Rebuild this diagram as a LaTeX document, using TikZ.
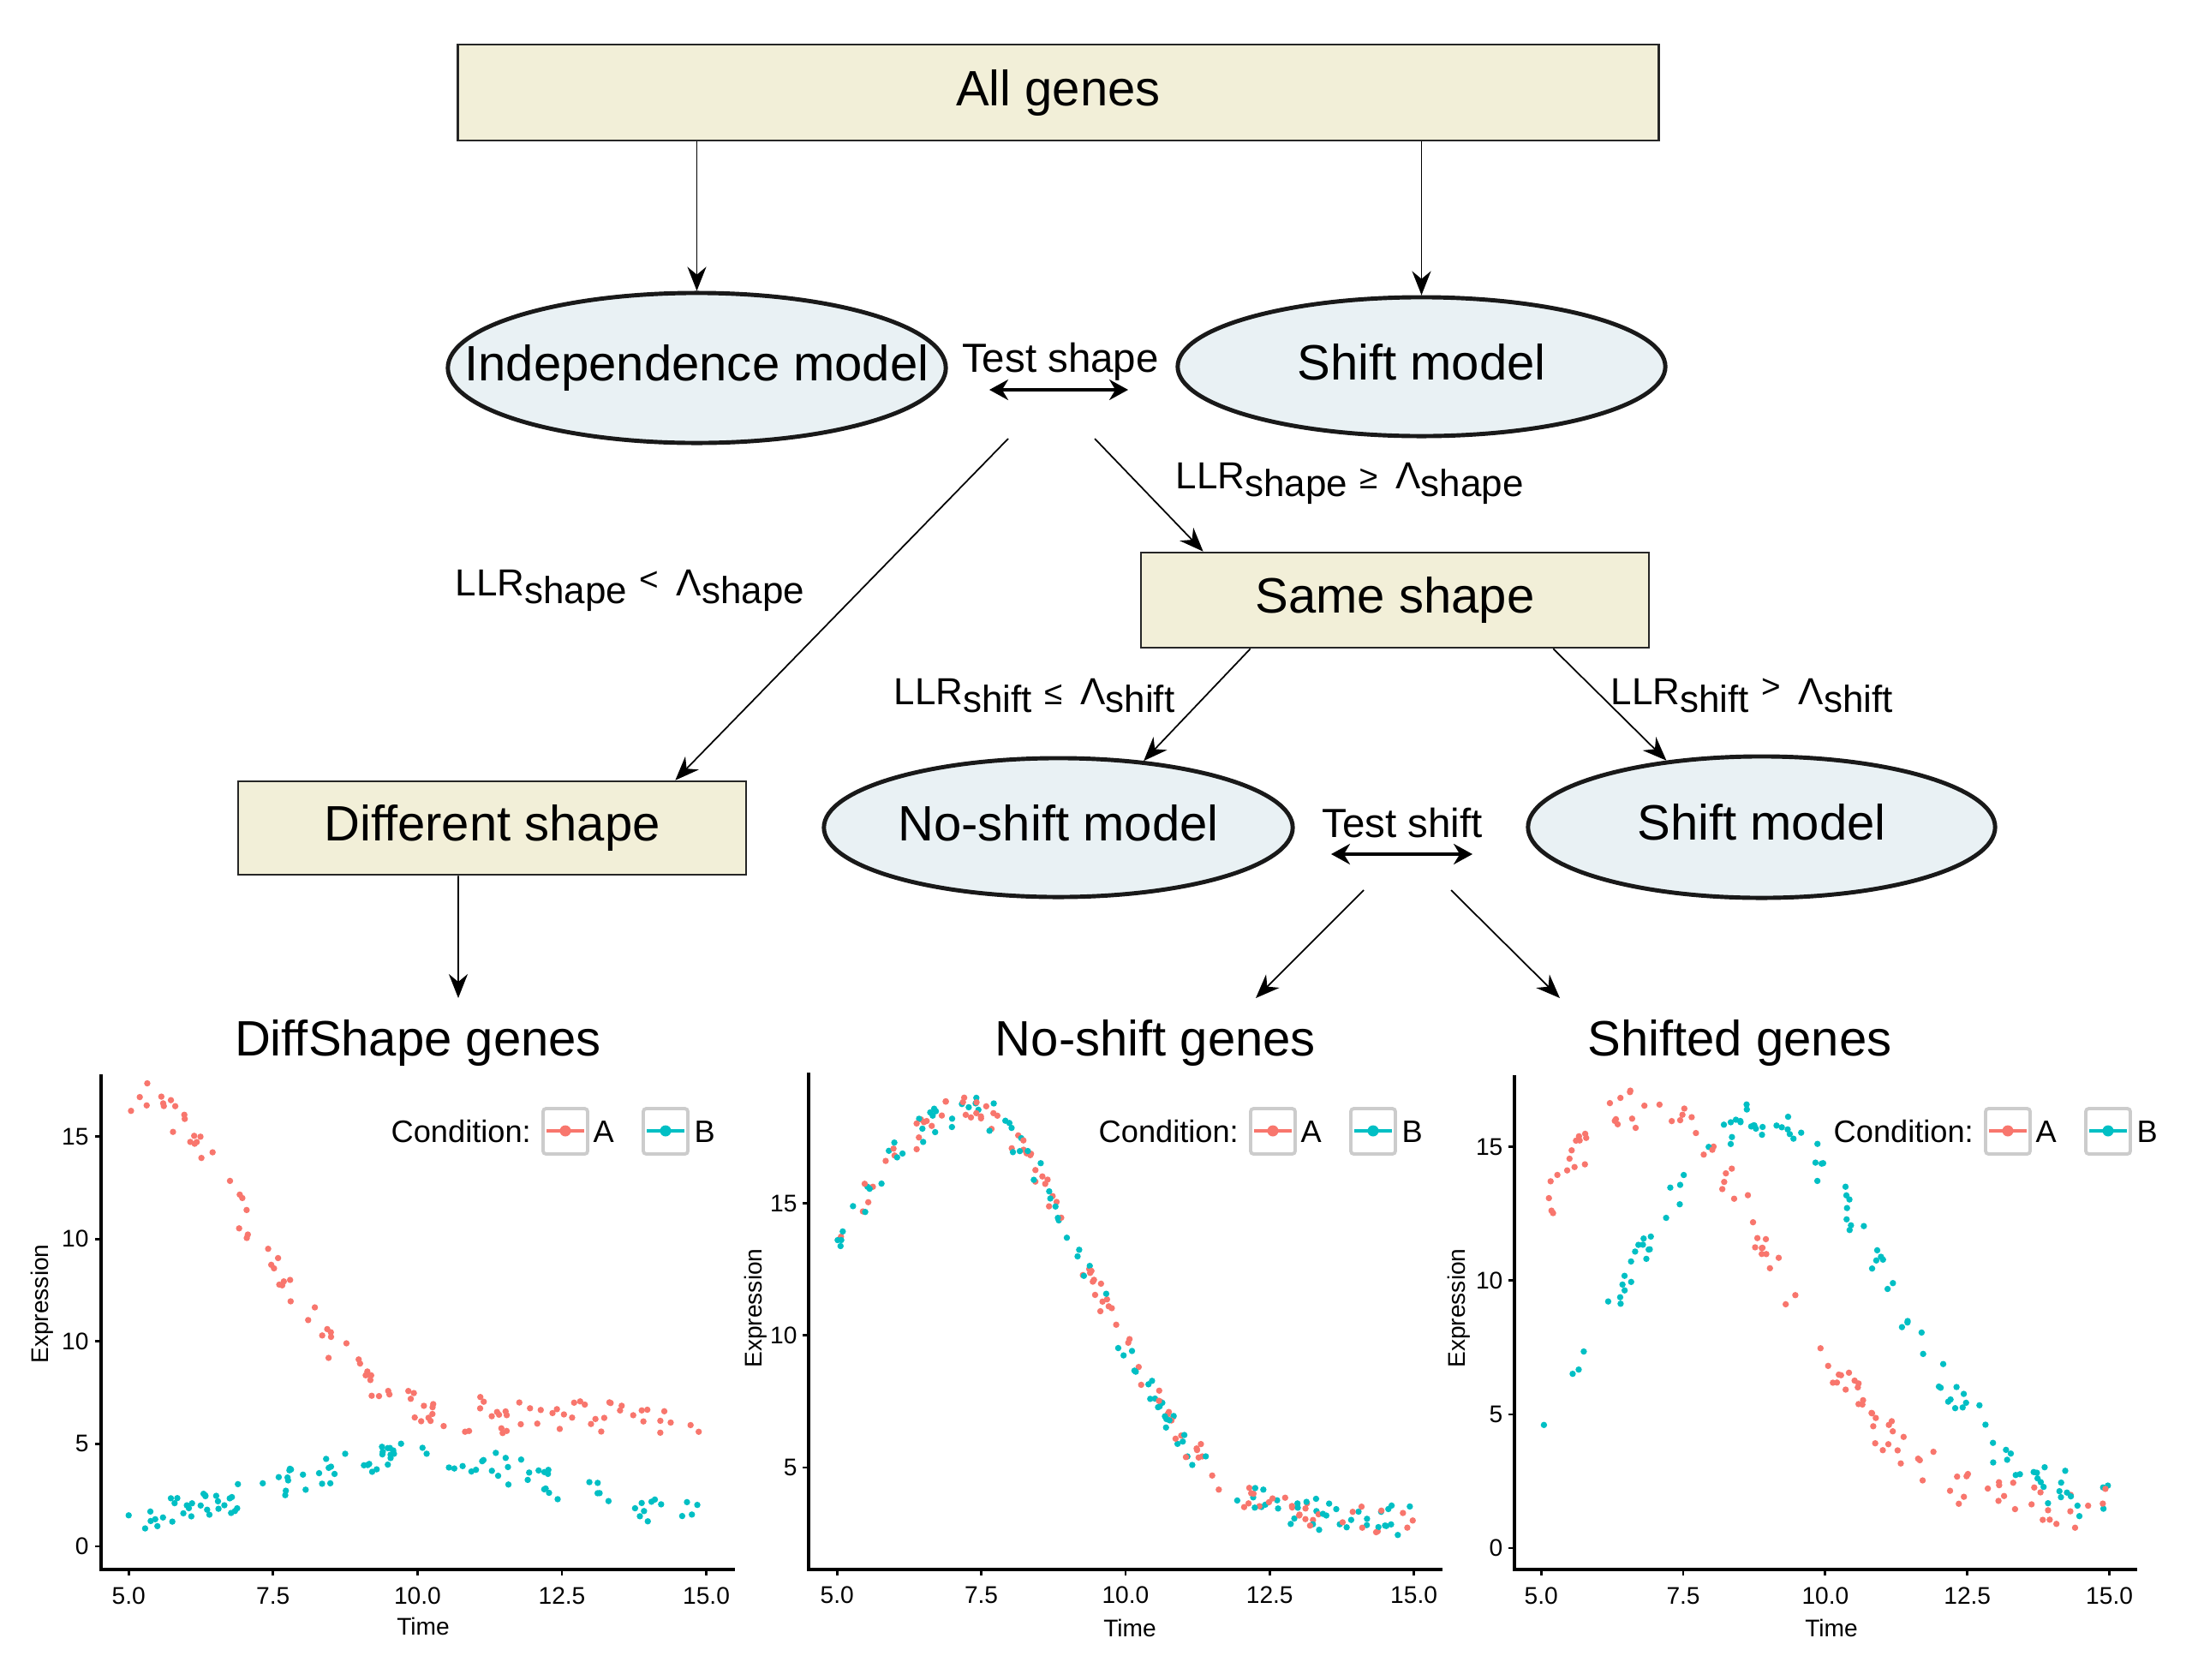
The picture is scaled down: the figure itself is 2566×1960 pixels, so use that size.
\documentclass[tikz,border=0pt]{standalone}
\usepackage{fontspec}
\setmainfont{Liberation Sans}
\usetikzlibrary{shapes.geometric}
\usetikzlibrary{arrows.meta}

\definecolor{boxfill}{RGB}{242,239,216}
\definecolor{ellfill}{RGB}{233,241,244}
\definecolor{condA}{HTML}{F8766D}
\definecolor{condB}{HTML}{00BFC4}
\definecolor{keygray}{RGB}{204,204,204}

\newcommand{\llrtext}[3]{LLR\raisebox{-2.6pt}{#1}\hspace{4pt}\raisebox{#3}{\fontsize{11}{11}\selectfont #2}\hspace{6pt}Λ\raisebox{-2.6pt}{#1}}

\tikzset{
  genebox/.style={shape=rectangle, draw=black!85, line width=0.7pt, fill=boxfill, inner sep=0pt, text depth=3.4pt, font=\fontsize{16.5}{19}\selectfont},
  modelnode/.style={shape=ellipse, draw=black!90, line width=1.4pt, fill=ellfill, inner sep=0pt, text depth=3.4pt, font=\fontsize{16.5}{19}\selectfont},
  flowarrow/.style={-{Stealth[black,length=2.8mm,width=2.2mm]}, line width=0.5pt},
  testarrow/.style={{Stealth[black,length=2.2mm,width=2.4mm]}-{Stealth[black,length=2.2mm,width=2.4mm]}, line width=0.9pt},
  testlabel/.style={anchor=base, inner sep=0pt, font=\fontsize{13.5}{16}\selectfont},
  condlabel/.style={anchor=base west, inner sep=0pt, font=\fontsize{12.5}{14}\selectfont},
  plottitle/.style={anchor=base, inner sep=0pt, font=\fontsize{16.5}{19}\selectfont},
  axisline/.style={line width=1.2pt, line cap=rect},
  tickline/.style={line width=0.8pt},
  ticklabel/.style={inner sep=0pt, font=\fontsize{8}{9}\selectfont},
  legendtext/.style={anchor=west, inner sep=0pt, font=\fontsize{10.3}{12}\selectfont},
}

\begin{document}
\begin{tikzpicture}[x=0.01cm, y=-0.01cm]
        \fill[white] (0,0) rectangle (2566,1960);
        \pgfmathsetseed{7}

        \node[genebox, minimum width=14.01cm, minimum height=1.12cm] (allgenes) at (1235.5,108) {All genes};
        \node[modelnode, minimum width=5.81cm, minimum height=1.75cm] (indep) at (813.5,429.5) {\makebox[0pt]{Independence model}};
        \node[modelnode, minimum width=5.69cm, minimum height=1.62cm] (shiftA) at (1659.5,428) {\makebox[0pt]{Shift model}};
        \node[genebox, minimum width=5.93cm, minimum height=1.11cm] (same) at (1628.5,700.5) {Same shape};
        \node[genebox, minimum width=5.93cm, minimum height=1.09cm] (diff) at (574.5,966.5) {Different shape};
        \node[modelnode, minimum width=5.47cm, minimum height=1.62cm] (noshift) at (1235.5,966) {\makebox[0pt]{No-shift model}};
        \node[modelnode, minimum width=5.45cm, minimum height=1.65cm] (shiftB) at (2056.5,965.5) {\makebox[0pt]{Shift model}};

        \node[testlabel] (tshape) at (1238,434) {Test shape};
        \node[testlabel] (tshift) at (1637,977) {Test shift};
        \coordinate (tshapeA) at (1155,455);
        \coordinate (tshapeB) at (1317,455);
        \coordinate (tshiftA) at (1554,997);
        \coordinate (tshiftB) at (1719,997);
        \draw[testarrow] (tshapeA) -- (tshapeB);
        \draw[testarrow] (tshiftA) -- (tshiftB);

        \node[condlabel] (llrA) at (1372,570) {\llrtext{shape}{≥}{0pt}};
        \node[condlabel] (llrB) at (531,695) {\llrtext{shape}{<}{1.5pt}};
        \node[condlabel] (llrC) at (1043,822) {\llrtext{shift}{≤}{0pt}};
        \node[condlabel] (llrD) at (1880,822) {\llrtext{shift}{>}{2pt}};

        \coordinate (shapeL) at (1177,512);
        \coordinate (shapeR) at (1278,512);
        \coordinate (shiftL) at (1592,1039);
        \coordinate (shiftR) at (1694,1039);
        \coordinate (diffEnd) at (535,1165);
        \coordinate (noshiftEnd) at (1466,1165);
        \coordinate (shiftedEnd) at (1821,1165);

        \draw[flowarrow] (allgenes.south -| indep.north) -- (indep.north);
        \draw[flowarrow] (allgenes.south -| shiftA.north) -- (shiftA.north);
        \draw[flowarrow] (shapeL) -- ([xshift=-0.84cm]diff.north east);
        \draw[flowarrow] (shapeR) -- ([xshift=0.74cm]same.north west);
        \draw[flowarrow] ([xshift=1.29cm]same.south west) -- (noshift.38);
        \draw[flowarrow] ([xshift=-1.13cm]same.south east) -- (shiftB.145);
        \draw[flowarrow] ([xshift=-0.395cm]diff.south) -- (diffEnd);
        \draw[flowarrow] (shiftL) -- (noshiftEnd);
        \draw[flowarrow] (shiftR) -- (shiftedEnd);

        \node[plottitle] (titleDiff) at (488,1232) {DiffShape genes};
        \node[plottitle] (titleNoshift) at (1349,1232) {No-shift genes};
        \node[plottitle] (titleShifted) at (2031,1232) {Shifted genes};

        % legends
        \foreach \lx [count=\k] in {456,1282,2140}{
            \node[legendtext] (cond\k) at (\lx,1321) {Condition:};
            \draw[keygray, line width=1.1pt, rounded corners=1pt] ({\lx+178},1294) rectangle ({\lx+230},1347);
            \draw[condA, line width=1.4pt] ({\lx+182},1320) -- ({\lx+226},1320);
            \fill[condA] ({\lx+204},1320) circle[radius=0.065cm];
            \node[legendtext] (keyA\k) at ({\lx+236},1321) {A};
            \draw[keygray, line width=1.1pt, rounded corners=1pt] ({\lx+295},1294) rectangle ({\lx+347},1347);
            \draw[condB, line width=1.4pt] ({\lx+299},1320) -- ({\lx+343},1320);
            \fill[condB] ({\lx+321},1320) circle[radius=0.065cm];
            \node[legendtext] (keyB\k) at ({\lx+354},1321) {B};
        }

        \node[ticklabel, anchor=base] (timeA) at (494,1908) {Time};
        \node[ticklabel, anchor=base] (timeB) at (1319,1910) {Time};
        \node[ticklabel, anchor=base] (timeC) at (2138,1910) {Time};
        \node[ticklabel, rotate=90] (exprA) at (49,1522) {Expression};
        \node[ticklabel, rotate=90] (exprB) at (882,1527) {Expression};
        \node[ticklabel, rotate=90] (exprC) at (1703,1527) {Expression};

        % DiffShape genes
        \begin{scope}[shift={(-187,1805)}, x=0.674cm, y=0.239cm]
            \foreach \i in {1,...,110}{
                \pgfmathsetmacro{\t}{5+10*rnd}
                \pgfmathsetmacro{\v}{6.2+15.7*exp(-(\t-5)*(\t-5)/8.5)+0.9*rand}
                \fill[condA] (\t,\v) circle[radius=0.037cm];
                \pgfmathsetmacro{\t}{5+10*rnd}
                \pgfmathsetmacro{\v}{1.0+3.4*exp(-(\t-10)*(\t-10)/11)+0.7*rand}
                \fill[condB] (\t,\v) circle[radius=0.037cm];
            }
            \draw[axisline] (4.525,22.97) -- (4.525,-1.13) -- (15.46,-1.13);
            \foreach \v/\lab [count=\k] in {0/0,5/5,10/10,15/10,20/15}{
                \draw[tickline] (4.525,\v) -- ++(-0.07cm,0);
                \node[ticklabel, anchor=east] (dsy\k) at ([xshift=-0.14cm]4.525,\v) {\lab};
            }
            \foreach \t [count=\k] in {5.0,7.5,10.0,12.5,15.0}{
                \draw[tickline] (\t,-1.13) -- ++(0,-0.07cm);
                \node[ticklabel, anchor=base] (dsx\k) at ([yshift=-0.40cm]\t,-1.13) {\t};
            }
        \end{scope}

        % No-shift genes
        \begin{scope}[shift={(640.5,1867)}, x=0.673cm, y=0.308cm]
            \foreach \i in {1,...,110}{
                \pgfmathsetmacro{\t}{5+10*rnd}
                \pgfmathsetmacro{\s}{\t<7.3 ? 14 : 8.5}
                \pgfmathsetmacro{\v}{3+15.5*exp(-(\t-7.3)*(\t-7.3)/\s)+0.6*rand}
                \fill[condA] (\t,\v) circle[radius=0.037cm];
                \pgfmathsetmacro{\t}{5+10*rnd}
                \pgfmathsetmacro{\s}{\t<7.3 ? 14 : 8.5}
                \pgfmathsetmacro{\v}{3+15.5*exp(-(\t-7.3)*(\t-7.3)/\s)+0.6*rand}
                \fill[condB] (\t,\v) circle[radius=0.037cm];
            }
            \draw[axisline] (4.51,19.9) -- (4.51,1.14) -- (15.46,1.14);
            \foreach \v [count=\k] in {5,10,15}{
                \draw[tickline] (4.51,\v) -- ++(-0.07cm,0);
                \node[ticklabel, anchor=east] (nsy\k) at ([xshift=-0.13cm]4.51,\v) {\v};
            }
            \foreach \t [count=\k] in {5.0,7.5,10.0,12.5,15.0}{
                \draw[tickline] (\t,1.14) -- ++(0,-0.07cm);
                \node[ticklabel, anchor=base] (nsx\k) at ([yshift=-0.40cm]\t,1.14) {\t};
            }
        \end{scope}

        % Shifted genes
        \begin{scope}[shift={(1467.5,1807)}, x=0.663cm, y=0.312cm]
            \foreach \i in {1,...,110}{
                \pgfmathsetmacro{\t}{5+10*rnd}
                \pgfmathsetmacro{\v}{1.4+15*exp(-(\t-6.8)*(\t-6.8)/11)+0.8*rand}
                \fill[condA] (\t,\v) circle[radius=0.037cm];
                \pgfmathsetmacro{\t}{5+10*rnd}
                \pgfmathsetmacro{\v}{1.4+14.6*exp(-(\t-8.8)*(\t-8.8)/10)+0.8*rand}
                \fill[condB] (\t,\v) circle[radius=0.037cm];
            }
            \draw[axisline] (4.53,17.63) -- (4.53,-0.8) -- (15.46,-0.8);
            \foreach \v [count=\k] in {0,5,10,15}{
                \draw[tickline] (4.53,\v) -- ++(-0.07cm,0);
                \node[ticklabel, anchor=east] (shy\k) at ([xshift=-0.13cm]4.53,\v) {\v};
            }
            \foreach \t [count=\k] in {5.0,7.5,10.0,12.5,15.0}{
                \draw[tickline] (\t,-0.8) -- ++(0,-0.07cm);
                \node[ticklabel, anchor=base] (shx\k) at ([yshift=-0.40cm]\t,-0.8) {\t};
            }
        \end{scope}
    \end{tikzpicture}
\end{document}
